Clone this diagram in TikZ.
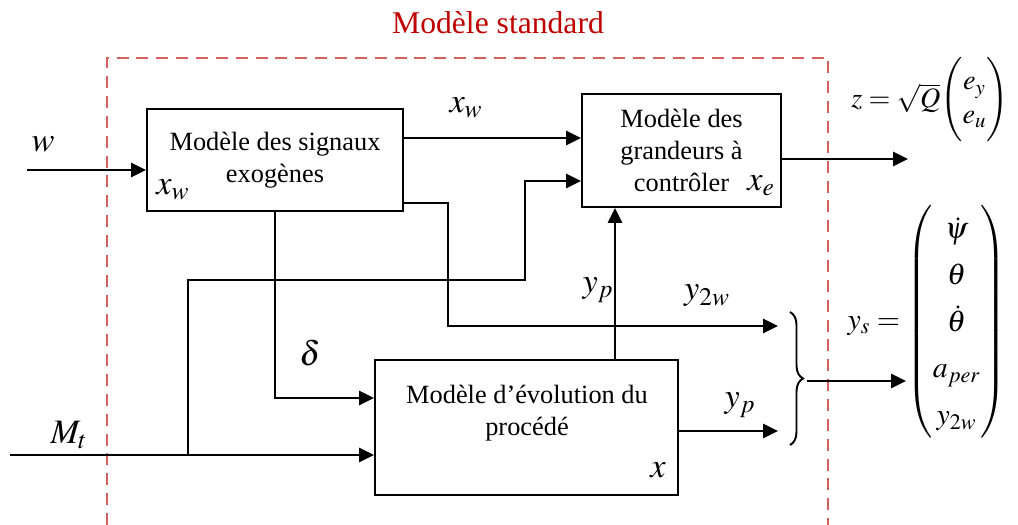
\documentclass[tikz,border=0pt]{standalone}
\usepackage{amsmath}
\usepackage{mathptmx}
\usepackage{fontspec}
\setmainfont{Liberation Serif}
\usetikzlibrary{arrows.meta,positioning,decorations.pathreplacing}
\definecolor{DarkRed}{HTML}{C00000}
\definecolor{DashRed}{HTML}{D65F5F}
\tikzset{
  blk/.style={draw=black, line width=1.1pt, fill=white, align=center, inner sep=3pt, font=\fontsize{15}{18}\selectfont},
  txt/.style={align=center, inner sep=0pt, font=\fontsize{15}{18}\selectfont},
  lbl/.style={inner sep=0pt, font=\fontsize{19.5}{23}\selectfont},
  eqn/.style={inner sep=0pt, font=\fontsize{17}{20.4}\selectfont},
  sig/.style={-{Triangle[length=3mm,width=2.8mm]}, line width=1.5pt},
  frame/.style={draw=DashRed, line width=1.1pt, dash pattern=on 6.8pt off 4.5pt},
  curly/.style={line width=1.1pt, decorate, decoration={brace, amplitude=2.6mm}}
}

\begin{document}
\begin{tikzpicture}[x=0.2mm, y=-0.2mm]
\useasboundingbox (0,0) rectangle (1018,525);
\draw[frame] (107,525) -- (107,58) -- (828,58) -- (828,525);
\node[txt, text=DarkRed, font=\fontsize{18}{21}\selectfont] (title) at (498,23) {Modèle standard};
% blocks
\node[blk, minimum width=51.2mm, minimum height=20.4mm] (exo) at (275,160) {Modèle des signaux\\exogènes};
\node[blk, minimum width=39.8mm, minimum height=22.6mm] (ctrl) at (681.5,150.5) {Modèle des\\grandeurs à\\contrôler};
\node[blk, minimum width=60.6mm, minimum height=27mm] (proc) at (526.5,427.5) {};
\node[txt] (proctxt) at (527,413) {Modèle d’évolution du\\procédé};
\node[lbl] (xwin) at (173,190) {$x_w$};
\node[lbl] (xein) at (761,186) {$x_e$};
\node[lbl] (xin) at (658,470) {$x$};
% helper points
\coordinate (win) at (27,170);
\coordinate (xwrow) at (0,138);
\coordinate (drow) at (0,398);
\coordinate (split) at (448,203);
\coordinate (y2wend) at (778,326);
\coordinate (mtin) at (10,455);
\coordinate (branch) at (188,455);
\coordinate (knee) at (525,280);
\coordinate (cin) at (0,181);
\coordinate (ypcol) at (615,0);
\coordinate (ypend) at (778,431);
\coordinate (zend) at (908,159);
\coordinate (btop) at (790,312);
\coordinate (bbot) at (790,445);
\coordinate (tip) at (807,381);
\coordinate (ysend) at (906,381);
% signals
\draw[sig] (win) -- (win -| exo.west);
\draw[sig] (exo.east |- xwrow) -- (ctrl.west |- xwrow);
\draw[sig] (exo.south) |- (proc.west |- drow);
\draw[sig] (exo.east |- split) -- (split) |- (y2wend);
\draw[sig] (mtin) -- (mtin -| proc.west);
\draw[sig] (branch) |- (knee) |- (ctrl.west |- cin);
\draw[sig] (proc.north -| ypcol) -- (ctrl.south -| ypcol);
\draw[sig] (proc.east |- ypend) -- (ypend);
\draw[sig] (ctrl.east |- zend) -- (zend);
\draw[curly] (btop) -- (bbot);
\draw[sig] (tip) -- (ysend);
% labels
\node[lbl] (wlbl) at (43,144) {$w$};
\node[lbl] (xwlbl) at (466,108) {$x_w$};
\node[lbl] (dlbl) at (310,353) {$\delta$};
\node[lbl] (y2wlbl) at (707,296) {$y_{2w}$};
\node[lbl] (yplbl) at (598,290) {$y_p$};
\node[lbl] (ypout) at (740,405) {$y_p$};
\node[lbl] (mtlbl) at (69,435) {$M_t$};
\node[eqn, font=\fontsize{16}{19}\selectfont] (zlbl) at (930,100) {$z=\sqrt{Q}\Bigg(\begin{matrix}e_y\\e_u\end{matrix}\Bigg)$};
\node[eqn] (yslbl) at (927,322) {\renewcommand{\arraystretch}{1.3}$y_s=\begin{pmatrix}\dot\psi\\\theta\\\dot\theta\\a_{per}\\y_{2w}\end{pmatrix}$};
\end{tikzpicture}
\end{document}
